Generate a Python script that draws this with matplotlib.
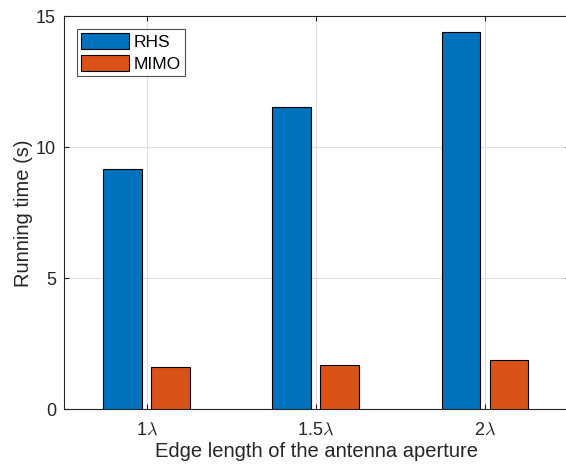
import numpy as np
import matplotlib
matplotlib.use('Agg')
import matplotlib.pyplot as plt

plt.rcParams['font.family'] = ['Liberation Sans', 'DejaVu Sans']
plt.rcParams['mathtext.fontset'] = 'cm'

# data
apertures = ['1$\\lambda$', '1.5$\\lambda$', '2$\\lambda$']
rhs = [9.17, 11.53, 14.41]
mimo = [1.61, 1.69, 1.89]

dark = '#262626'
blue = '#0072BD'
orange = '#D95319'

fig = plt.figure(figsize=(5.66, 4.67), dpi=100)
W, H = 566, 467
left, right = 64.3, 569.6
top, bottom = 16.3, 409.3
ax = fig.add_axes([left / W, 1 - bottom / H, (right - left) / W, (bottom - top) / H])

x = np.arange(1, len(apertures) + 1)
w = 0.23
ax.bar(x - 0.142, rhs, w, color=blue, edgecolor='black', linewidth=0.8, label='RHS', zorder=3)
ax.bar(x + 0.142, mimo, w, color=orange, edgecolor='black', linewidth=0.8, label='MIMO', zorder=3)

ax.set_xlim(0.513, 3.5)
ax.set_ylim(0, 15)
ax.set_xticks(x)
ax.set_xticklabels(apertures)
ax.set_yticks([0, 5, 10, 15])

ax.grid(True, color='#dfdfdf', linewidth=0.8, zorder=0)
ax.set_axisbelow(True)
ax.tick_params(direction='in', top=True, right=True, length=3.5, width=0.8,
               colors=dark, labelsize=13)
ax.tick_params(axis='x', pad=9)
ax.tick_params(axis='y', pad=6)
for s in ax.spines.values():
    s.set_color(dark)
    s.set_linewidth(0.8)

ax.set_xlabel('Edge length of the antenna aperture', fontsize=14.5, color=dark, labelpad=2)
ax.set_ylabel('Running time (s)', fontsize=14.5, color=dark, labelpad=2)

leg = ax.legend(loc='upper left', bbox_to_anchor=(0.025, 0.968), fontsize=12.5,
                frameon=True, fancybox=False, handlelength=2.75, handleheight=1.0,
                handletextpad=0.25, borderpad=0.25, labelspacing=0.3, borderaxespad=0)
leg.get_frame().set_edgecolor(dark)
leg.get_frame().set_linewidth(0.8)

fig.savefig('out.png', dpi=100)
